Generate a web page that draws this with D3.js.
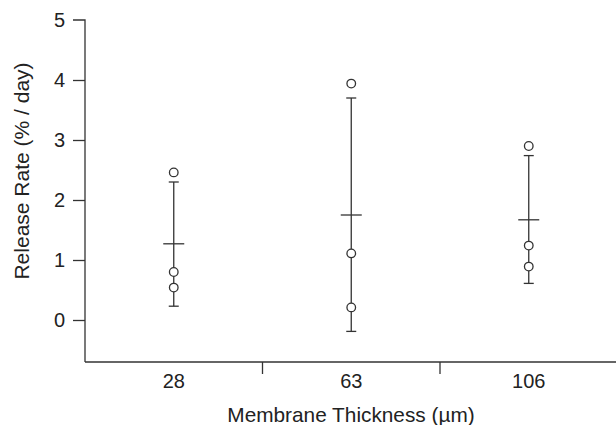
<!DOCTYPE html>
<html><head><meta charset="utf-8">
<script src="https://cdn.jsdelivr.net/npm/d3@7"></script>
<style>body{margin:0;background:#fff}svg{display:block}text{font-family:"Liberation Sans",Arial,sans-serif;fill:#222}</style>
</head><body><svg id="c" width="616" height="425"></svg>
<script>
const categories = ["28", "63", "106"];
const points = [[2.46, 0.80, 0.54], [3.94, 1.11, 0.21], [2.90, 1.24, 0.89]];
const means = [1.27, 1.75, 1.67];
const upper = [2.30, 3.70, 2.74];
const lower = [0.23, -0.19, 0.61];
const yTicks = [0, 1, 2, 3, 4, 5];

const svg = d3.select("#c");
const col = "#333";
const x = d3.scaleBand().domain(categories).range([85, 617.5]);
const y = d3.scaleLinear().domain([-0.7, 5]).range([362, 20]);

// y axis
const ya = svg.append("g").attr("transform","translate(85,0)")
  .call(d3.axisLeft(y).tickValues(yTicks).tickSize(12).tickPadding(8).tickFormat(d3.format("d")));
ya.select(".domain").attr("d", `M-12,${y(5)}H0V${y(-0.7)}`);
ya.selectAll("line,path").attr("stroke", col).attr("stroke-width", 1.3);
ya.selectAll("text").attr("font-size", 20).attr("fill","#222").attr("font-family","Liberation Sans, Arial, sans-serif");
ya.selectAll(".tick").filter(d=>d===5).select("line").remove();

// x axis
const xa = svg.append("g").attr("transform","translate(0,362)")
  .call(d3.axisBottom(x).tickSize(0).tickPadding(12));
xa.selectAll("path").attr("stroke", col).attr("stroke-width", 1.3).attr("d","M85,0H617");
xa.selectAll("text").attr("font-size", 20).attr("fill","#222").attr("font-family","Liberation Sans, Arial, sans-serif");
// boundary ticks between categories
svg.append("g").selectAll("line").data(categories.slice(1)).join("line")
  .attr("x1", d=>x(d)).attr("x2", d=>x(d)).attr("y1",362).attr("y2",374)
  .attr("stroke", col).attr("stroke-width",1.3);

// labels
svg.append("text").attr("x", 351).attr("y", 421.5).attr("text-anchor","middle").attr("font-size",20.8)
  .text("Membrane Thickness (µm)");
svg.append("text").attr("transform","translate(28.5,171) rotate(-90)").attr("text-anchor","middle").attr("font-size",21)
  .text("Release Rate (% / day)");

// error bars
const g = svg.append("g").attr("stroke", col).attr("stroke-width", 1.3).attr("fill","none");
categories.forEach((c,i)=>{
  const cx = x(c) + x.bandwidth()/2;
  g.append("line").attr("x1",cx).attr("x2",cx).attr("y1",y(upper[i])).attr("y2",y(lower[i]));
  g.append("line").attr("x1",cx-5).attr("x2",cx+5).attr("y1",y(upper[i])).attr("y2",y(upper[i]));
  g.append("line").attr("x1",cx-5).attr("x2",cx+5).attr("y1",y(lower[i])).attr("y2",y(lower[i]));
  g.append("line").attr("x1",cx-10.5).attr("x2",cx+10.5).attr("y1",y(means[i])).attr("y2",y(means[i]));
  g.selectAll(null).data(points[i]).join("circle")
    .attr("cx",cx).attr("cy",d=>y(d)).attr("r",4.3).attr("fill","#fff");
});
</script></body></html>
